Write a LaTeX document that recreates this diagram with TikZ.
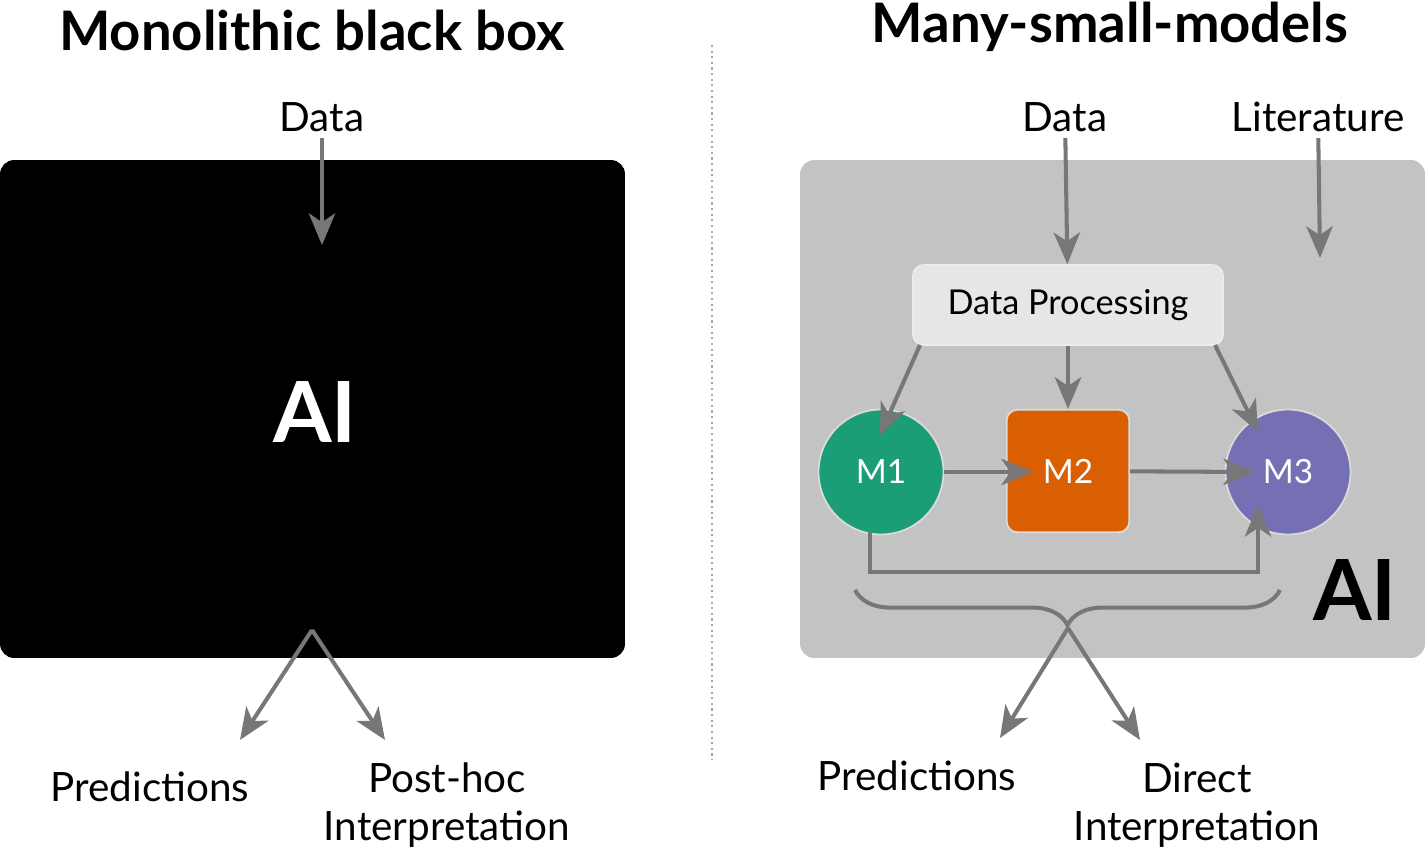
\documentclass[tikz,border=0pt]{standalone}
\usepackage{fontspec}
\setmainfont{Lato}
\usetikzlibrary{arrows.meta, positioning, decorations.pathreplacing}
\definecolor{arrowgray}{HTML}{777777}
\definecolor{boxgray}{HTML}{C3C3C3}
\definecolor{procgray}{HTML}{E6E6E6}
\definecolor{mone}{HTML}{1B9E77}
\definecolor{mtwo}{HTML}{D95F02}
\definecolor{mthree}{HTML}{7570B3}
\begin{document}
\begin{tikzpicture}[x=0.02cm,y=-0.02cm]

    % Define styles
    \tikzset{
        title/.style={font=\fontsize{31}{34}\selectfont\bfseries},
        label/.style={font=\fontsize{23}{27}\selectfont, align=center},
        model/.style={minimum size=3.5cm, inner sep=0pt, text=white, font=\fontsize{19}{22}\selectfont},
        flow/.style={draw=arrowgray, line width=2.3pt, -{Stealth[length=18pt,width=15pt,inset=5pt]}},
        plain/.style={draw=arrowgray, line width=2.3pt}
    }
    \useasboundingbox (0,0) rectangle (1425,852);

    % left side
    \node (lefttitle) [title] at (312,30) {Monolithic black box};
    \node (blackbox) [fill=black, rounded corners=8pt, minimum width=12.5cm, minimum height=9.96cm, inner sep=0pt] at (312.5,409) {};
    \node (leftai) [text=white, font=\fontsize{48}{50}\selectfont\bfseries] at (315,412) {AI};
    \node (leftdata) [label] at (322,117) {Data};
    \node (leftpred) [label] at (150,787) {Predictions};
    \node (posthoc) [label] at (447,805) {Post-hoc\\Interpretation};
    \coordinate (leftin) at (322,245);
    \coordinate (leftout) at (312,630);
    \coordinate (leftpredend) at (240,740);
    \coordinate (posthocend) at (385,740);

    \draw [flow] (leftdata) -- (leftin);
    \draw [flow] (leftout) -- (leftpredend);
    \draw [flow] (leftout) -- (posthocend);

    % separator
    \coordinate (septop) at (712,45);
    \coordinate (sepbottom) at (712,760);
    \draw [gray!70, line width=1.2pt, dotted] (septop) -- (sepbottom);

    % right side
    \node (righttitle) [title] at (1110,27) {Many-small-models};
    \node (graybox) [fill=boxgray, rounded corners=8pt, minimum width=12.5cm, minimum height=9.96cm, inner sep=0pt] at (1112.5,409) {};
    \node (rightai) [font=\fontsize{48}{50}\selectfont\bfseries] at (1355,590) {AI};
    \node (rightdata) [label] at (1065,117) {Data};
    \node (literature) [label] at (1318,117) {Literature};
    \node (processing) [fill=procgray, draw=white!85!gray, line width=1pt, rounded corners=6pt, minimum width=6.2cm, minimum height=1.6cm, font=\fontsize{19.5}{22}\selectfont] at (1068,305) {Data Processing};
    \node (mone) [model, circle, fill=mone, draw=boxgray!60!white, line width=1pt, minimum size=2.5cm] at (881,472) {M1};
    \node (mtwo) [model, fill=mtwo, rounded corners=6pt, draw=boxgray!60!white, line width=1pt, minimum size=2.45cm] at (1068,471) {M2};
    \node (mthree) [model, circle, fill=mthree, draw=boxgray!60!white, line width=1pt, minimum size=2.5cm] at (1288,472) {M3};
    \node (rightpred) [label] at (917,776) {Predictions};
    \node (direct) [label] at (1197,805) {Direct\\Interpretation};
    \coordinate (litend) at (1320,258);
    \coordinate (procone) at (920,345);
    \coordinate (procthree) at (1215,345);
    \coordinate (monein) at (880,435);
    \coordinate (mthreein) at (1258,432);
    \coordinate (monedown) at (870,572);
    \coordinate (mthreeup) at (1258,505);
    \coordinate (braceleft) at (855,590);
    \coordinate (braceright) at (1280,590);
    \coordinate (bracetip) at (1068,628);
    \coordinate (rightpredend) at (1000,738);
    \coordinate (directend) at (1140,740);

    % arrows
    \draw [flow] (rightdata) -- (processing);
    \draw [flow] (literature) -- (litend);
    \draw [flow] (procone) -- (monein);
    \draw [flow] (processing) -- (mtwo.north);
    \draw [flow] (procthree) -- (mthreein);
    \draw [flow] (mone) -- (1033,472);
    \draw [flow] (mtwo) -- (1255,472);
    \draw [flow] (870,532) -- (monedown) -| (mthreeup);

    % brace and outputs
    \draw [plain, decorate, decoration={brace, mirror, amplitude=20pt}] (braceleft) -- (braceright);
    \draw [flow] (bracetip) -- (rightpredend);
    \draw [flow] (bracetip) -- (directend);

\end{tikzpicture}
\end{document}
